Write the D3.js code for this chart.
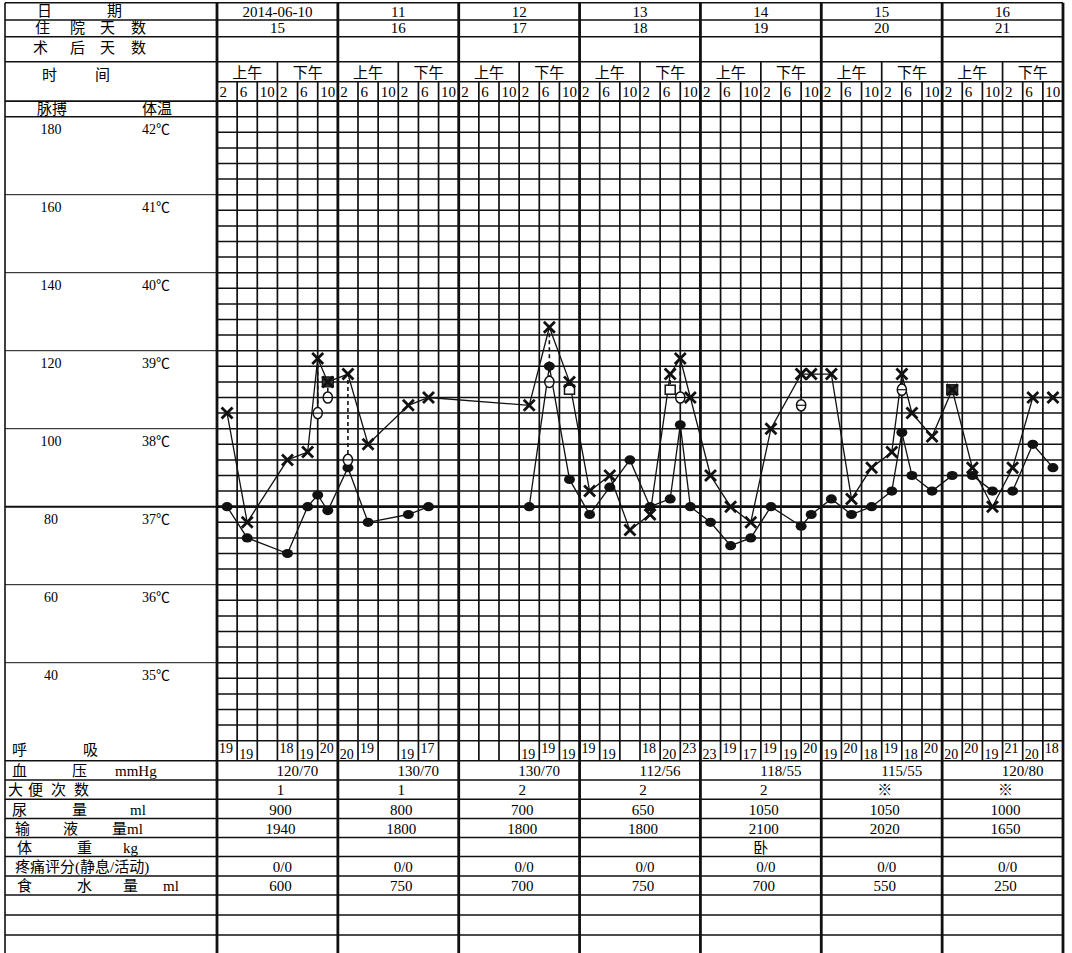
<!DOCTYPE html>
<html><head><meta charset="utf-8">
<script src="https://cdn.jsdelivr.net/npm/d3@7"></script>
<style>
body{margin:0;background:#fff}
text{font-family:"Liberation Serif","Noto Sans CJK SC",serif;fill:#000}
</style>
</head><body><svg id="c" width="1072" height="953"></svg>
<script>
// ---------------- data ----------------
const dates = ["2014-06-10","11","12","13","14","15","16"];
const hospitalDays = ["15","16","17","18","19","20","21"];
const postOpDays = ["","","","","","",""];
const halfDayLabels = ["上午","下午"];
const slotLabels = ["2","6","10","2","6","10"];
const pulseTicks = [180,160,140,120,100,80,60,40];
const tempTicks = [42,41,40,39,38,37,36,35];

// temperature: [day, hour, ℃, mark]
const temperature = [
  [0,2,38.2,"x"],[0,6,36.8,"x"],[0,14,37.6,"x"],[0,18,37.7,"x"],[0,20,38.9,"x"],[0,22,38.6,"box"],
  [1,2,38.7,"x"],[1,6,37.8,"x"],[1,14,38.3,"x"],[1,18,38.4,"x"],
  [2,14,38.3,"x"],[2,18,39.3,"x"],[2,22,38.6,"x"],
  [3,2,37.2,"x"],[3,6,37.4,"x"],[3,10,36.7,"x"],[3,14,36.9,"x"],[3,18,38.7,"x"],[3,20,38.9,"x"],[3,22,38.4,"x"],
  [4,2,37.4,"x"],[4,6,37.0,"x"],[4,10,36.8,"x"],[4,14,38.0,"x"],[4,20,38.7,"x"],[4,22,38.7,"x"],
  [5,2,38.7,"x"],[5,6,37.1,"x"],[5,10,37.5,"x"],[5,14,37.7,"x"],[5,16,38.7,"x"],[5,18,38.2,"x"],[5,22,37.9,"x"],
  [6,2,38.5,"box"],[6,6,37.5,"x"],[6,10,37.0,"x"],[6,14,37.5,"x"],[6,18,38.4,"x"],[6,22,38.4,"x"]
];
// pulse: [day, hour, beats/min]
const pulse = [
  [0,2,80],[0,6,72],[0,14,68],[0,18,80],[0,20,83],[0,22,79],
  [1,2,90],[1,6,76],[1,14,78],[1,18,80],
  [2,14,80],[2,18,116],[2,22,87],
  [3,2,78],[3,6,85],[3,10,92],[3,14,80],[3,18,82],[3,20,101],[3,22,80],
  [4,2,76],[4,6,70],[4,10,72],[4,14,80],[4,20,75],[4,22,78],
  [5,2,82],[5,6,78],[5,10,80],[5,14,84],[5,16,99],[5,18,88],[5,22,84],
  [6,2,88],[6,6,88],[6,10,84],[6,14,84],[6,18,96],[6,22,90]
];
// re-measured temperature after cooling: [day, hour, ℃, mark]
const cooled = [
  [0,20,38.2,"o"],[0,22,38.4,"o"],[1,2,37.6,"o"],[2,18,38.6,"o"],[2,22,38.5,"sq"],
  [3,18,38.5,"sq"],[3,20,38.4,"o"],[4,20,38.3,"o"],[5,16,38.5,"o"]
];
const respiration = [
  [19,19,null,18,19,20],[20,19,null,19,17,null],[null,null,null,19,19,19],
  [19,19,null,18,20,23],[23,19,17,19,19,20],[19,20,18,19,18,20],[20,20,19,21,20,18]
];
const bloodPressure = ["120/70","130/70","130/70","112/56","118/55","115/55","120/80"];
const stools = ["1","1","2","2","2","※","※"];
const urine = ["900","800","700","650","1050","1050","1000"];
const infusion = ["1940","1800","1800","1800","2100","2020","1650"];
const weight = ["","","","","卧","",""];
const painScore = ["0/0","0/0","0/0","0/0","0/0","0/0","0/0"];
const intake = ["600","750","700","750","700","550","250"];

// ---------------- layout ----------------
const svg = d3.select("#c");
const L = 5, R = 1063, X0 = 217;
const x = d3.scaleLinear().domain([0,168]).range([X0,R]);
const yT = d3.scaleLinear().domain([37,42]).range([506.7,116.7]);
const yP = d3.scaleLinear().domain([80,180]).range([yT(37),yT(42)]);
const gridTop = yT(42.2);
const tbl = [760.7,780,799.3,818.5,837.5,856.5,876,895,915,935];
const dayW = (R-X0)/7;
const dc = i => X0 + dayW*(i+0.5);
const hx = (d,h) => x(d*24+h);

const g = svg.append("g");
function line(x1,y1,x2,y2,w,extra){
  const l=g.append("line").attr("x1",x1).attr("y1",y1).attr("x2",x2).attr("y2",y2)
    .attr("stroke","#111").attr("stroke-width",w);
  if(extra) l.attr("stroke-dasharray",extra);
  return l;
}
// horizontal grid lines in chart
for(let k=0;k<=41;k++){
  const t = 34 + k*0.2;
  const y = yT(t);
  const major = Math.abs(t-37)<1e-6;
  line(X0,y,R,y, major?2.8:1.5);
}
// left column degree lines
tempTicks.slice(1).forEach(t=>line(L,yT(t),X0,yT(t), t===37?2:1));
// header horizontals
[2.7,20,36.7,61.7].forEach(y=>line(L,y,R,y,1.6));
line(X0,81.7,R,81.7,1.5);
line(L,gridTop,R,gridTop,1.6);
line(L,yT(42),X0,yT(42),1.6);
// table horizontals
tbl.forEach(y=>line(L,y,R,y,1.6));
// vertical slot lines
for(let h=0;h<=168;h+=4){
  const xx = x(h);
  if(h%24===0){
    line(xx,2.7,xx,953,2.8);
  } else if(h%24===12){
    line(xx,61.7,xx,tbl[0],1.7);
  } else {
    line(xx,81.7,xx,tbl[0],1.7);
  }
}
line(L,2.7,L,953,1.6);

// ---------------- texts ----------------
function txt(s,xx,y,size,anchor){
  return g.append("text").attr("x",xx).attr("y",y).attr("font-size",size||15)
    .attr("text-anchor",anchor||"start").text(s);
}
const leftLabels = [
  [[["日",37],["期",107]],16],
  [[["住",35],["院",70],["天",100],["数",131]],33],
  [[["术",33],["后",70],["天",100],["数",131]],53],
  [[["时",42],["间",95]],80],
  [[["脉搏",37],["体温",142]],113.5],
  [[["呼",12],["吸",83]],755],
  [[["血",12],["压",72],["mmHg",115]],776],
  [[["大",8],["便",28],["次",51],["数",74]],795],
  [[["尿",12],["量",72],["ml",130]],814.5],
  [[["输",15],["液",63],["量ml",112]],833.5],
  [[["体",17],["重",77],["kg",123]],852.5],
  [[["疼痛评分(静息/活动)",15]],872],
  [[["食",17],["水",77],["量",123],["ml",163]],891]
];
leftLabels.forEach(([parts,y])=>parts.forEach(([s,xx])=>txt(s,xx,y,15)));

pulseTicks.forEach((p,i)=>{
  const t = tempTicks[i];
  txt(String(p),51,yT(t)+17,14,"middle");
  txt(t+"℃",142,yT(t)+17,14);
});

dates.forEach((s,i)=>txt(s,dc(i),16.5,15,"middle"));
hospitalDays.forEach((s,i)=>txt(s,dc(i),33,15,"middle"));
postOpDays.forEach((s,i)=>txt(s,dc(i),53,15,"middle"));
dates.forEach((_,i)=>{
  halfDayLabels.forEach((s,j)=>txt(s, X0+dayW*i + dayW*(j*0.5+0.25), 78, 15,"middle"));
  slotLabels.forEach((s,j)=>txt(s, x(i*24+j*4)+2.5, 97, 15));
});
// respiration, staggered
let alt = 0;
respiration.forEach((row,i)=>row.forEach((v,j)=>{
  if(v===null) return;
  txt(String(v), x(i*24+j*4)+2, alt%2===0?753:758.5, 14);
  alt++;
}));
const tableRows = [[bloodPressure,776,20],[stools,795,3],[urine,814.5,3],[infusion,833.5,3],
                   [weight,852.5,0],[painScore,872,5],[intake,891,3]];
tableRows.forEach(([arr,y,off])=>arr.forEach((s,i)=>txt(s,dc(i)+off,y,15,"middle")));

// ---------------- series ----------------
const lineGen = d3.line();
const tPts = temperature.map(d=>[hx(d[0],d[1]),yT(d[2])]);
const pPts = pulse.map(d=>[hx(d[0],d[1]),yP(d[2])]);
g.append("path").attr("d",lineGen(pPts)).attr("fill","none").attr("stroke","#111").attr("stroke-width",1.3);
g.append("path").attr("d",lineGen(tPts)).attr("fill","none").attr("stroke","#111").attr("stroke-width",1.3);

// dashed lines from fever temp to cooled temp
cooled.forEach(c=>{
  const t = temperature.find(d=>d[0]===c[0]&&d[1]===c[1]);
  if(t) line(hx(c[0],c[1]),yT(t[2])+6,hx(c[0],c[1]),yT(c[2])-5,1.6,"4,3");
});

// pulse dots
g.selectAll(".pd").data(pulse).enter().append("ellipse")
  .attr("cx",d=>hx(d[0],d[1])).attr("cy",d=>yP(d[2])).attr("rx",5.5).attr("ry",4.6)
  .attr("fill","#111");

// cooled markers
cooled.forEach(c=>{
  const cx=hx(c[0],c[1]), cy=yT(c[2]);
  if(c[3]==="o"){
    g.append("ellipse").attr("cx",cx).attr("cy",cy).attr("rx",4.6).attr("ry",5.6)
      .attr("fill","#fff").attr("stroke","#111").attr("stroke-width",1.5);
    line(cx-4.5,cy,cx+4.5,cy,1.2);
  } else {
    g.append("rect").attr("x",cx-5).attr("y",cy-4.5).attr("width",10).attr("height",9)
      .attr("fill","#fff").attr("stroke","#111").attr("stroke-width",1.5);
  }
});

// temperature markers
temperature.forEach(d=>{
  const cx=hx(d[0],d[1]), cy=yT(d[2]);
  if(d[3]==="box"){
    g.append("rect").attr("x",cx-5.5).attr("y",cy-5).attr("width",11).attr("height",10)
      .attr("fill","#333").attr("stroke","#111").attr("stroke-width",1.2);
  }
  const s=5.5;
  line(cx-s,cy-s,cx+s,cy+s,2.8);
  line(cx-s,cy+s,cx+s,cy-s,2.8);
});
</script>
</body></html>
